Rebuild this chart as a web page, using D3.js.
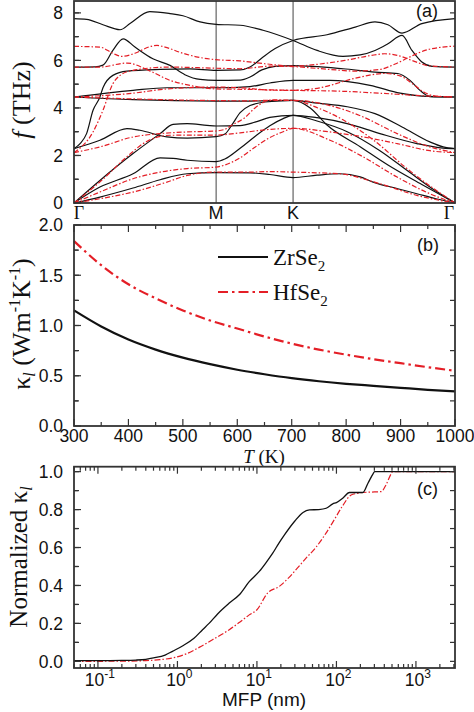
<!DOCTYPE html>
<html><head><meta charset="utf-8">
<script src="https://cdn.jsdelivr.net/npm/d3@7"></script>
<style>body{margin:0;background:#fff;}svg{display:block;}</style>
</head><body>
<svg id="c" width="474" height="712"></svg>
<script>
// ---------------- DATA ----------------
// (a) phonon dispersion, path coordinate k (0 = Γ, M, K, 1 = Γ), frequency in THz
const kLabels = ["Γ", "M", "K", "Γ"];
const kPositions = [0, 0.373, 0.575, 1];
const freqTicks = [0, 2, 4, 6, 8];

const zrBands = [
  [[0,0],[.068,.25],[.155,.63],[.226,.98],[.297,1.23],[.373,1.28],[.462,1.27],[.514,1.2],[.575,1.07],[.638,1.17],[.698,1.23],[.751,1.1],[.785,.88],[.85,.6],[.9,.39],[.95,.18],[1,0]],
  [[0,0],[.068,.67],[.155,1.23],[.226,1.9],[.26,1.88],[.297,1.8],[.373,1.74],[.396,1.85],[.436,2.3],[.475,2.8],[.514,3.25],[.549,3.55],[.575,3.69],[.638,3.45],[.717,3.0],[.803,2.2],[.88,1.3],[.95,.5],[1,0]],
  [[0,0],[.068,.95],[.155,2.08],[.226,2.92],[.26,3.31],[.297,3.34],[.349,3.27],[.373,3.24],[.436,3.26],[.475,3.4],[.514,3.6],[.575,3.69],[.638,3.59],[.717,3.34],[.803,2.92],[.9,2.5],[.969,2.31],[1,2.29]],
  [[0,2.29],[.068,2.64],[.139,3.13],[.173,3.06],[.244,2.78],[.297,2.73],[.373,2.79],[.396,2.9],[.415,3.3],[.436,3.8],[.462,4.1],[.501,4.25],[.575,4.32],[.62,4.0],[.664,3.28],[.751,2.37],[.824,1.6],[.913,.78],[1,0]],
  [[0,2.29],[.016,2.5],[.033,2.92],[.05,3.9],[.068,4.46],[.076,4.85],[.102,5.37],[.139,5.55],[.226,5.62],[.304,5.64],[.373,5.58],[.436,5.6],[.462,5.72],[.493,6.1],[.528,6.5],[.575,6.84],[.664,7.08],[.738,7.4],[.79,7.62],[.824,7.5],[.861,7.15],[.913,7.55],[1,7.76]],
  [[0,4.46],[.155,4.74],[.244,4.85],[.373,4.85],[.462,4.9],[.514,5.05],[.575,5.16],[.672,5.16],[.777,4.95],[.856,4.62],[.913,4.5],[1,4.46]],
  [[0,4.46],[.155,4.35],[.373,4.29],[.462,4.29],[.514,4.31],[.575,4.32],[.64,4.2],[.717,4.05],[.79,3.76],[.861,3.2],[.934,2.57],[.969,2.36],[1,2.29]],
  [[0,5.72],[.055,5.73],[.076,5.8],[.102,6.42],[.129,6.91],[.16,6.56],[.207,6.07],[.252,5.79],[.291,5.4],[.331,5.2],[.373,5.16],[.436,5.17],[.462,5.3],[.493,5.6],[.528,5.75],[.575,5.78],[.706,5.65],[.79,5.51],[.85,5.45],[.882,5.16],[.908,4.74],[.934,4.48],[1,4.46]],
  [[0,7.76],[.033,7.73],[.076,7.5],[.121,7.29],[.147,7.55],[.199,8.05],[.252,7.97],[.286,7.88],[.331,7.62],[.373,7.52],[.436,7.48],[.496,7.27],[.575,6.84],[.638,6.42],[.706,6.17],[.751,6.23],[.79,6.42],[.824,6.7],[.861,7.05],[.887,6.42],[.913,5.93],[.94,5.75],[1,5.72]]
];

const hfBands = [
  [[0,0],[.068,.18],[.155,.46],[.244,.88],[.297,1.16],[.373,1.3],[.462,1.3],[.514,1.32],[.575,1.3],[.672,1.25],[.698,1.23],[.803,.81],[.9,.32],[1,0]],
  [[0,0],[.068,.46],[.155,1.02],[.226,1.3],[.297,1.45],[.373,1.51],[.396,1.6],[.436,1.9],[.475,2.35],[.514,2.75],[.549,3.0],[.575,3.14],[.672,2.64],[.759,1.94],[.848,1.09],[.934,.39],[1,0]],
  [[0,0],[.076,1.0],[.139,1.95],[.192,2.6],[.252,2.85],[.373,2.86],[.436,2.95],[.501,3.08],[.575,3.14],[.672,2.99],[.759,2.78],[.848,2.5],[.934,2.2],[1,2.12]],
  [[0,2.12],[.068,2.36],[.155,2.78],[.226,2.92],[.297,2.99],[.373,3.03],[.396,3.1],[.415,3.28],[.449,3.6],[.475,4.0],[.52,4.34],[.575,4.32],[.64,4.0],[.706,3.5],[.79,2.6],[.87,1.5],[.94,.65],[1,0]],
  [[0,2.12],[.05,2.99],[.076,3.9],[.102,5.02],[.121,5.37],[.155,5.58],[.252,5.72],[.373,5.67],[.436,5.65],[.475,5.7],[.514,5.76],[.575,5.74],[.672,5.62],[.738,5.55],[.803,5.62],[.843,5.85],[.882,6.15],[.921,6.42],[.961,6.55],[1,6.6]],
  [[0,4.46],[.155,4.62],[.244,4.8],[.373,4.88],[.462,4.82],[.514,4.75],[.575,4.74],[.646,4.85],[.738,5.25],[.816,5.45],[.856,5.35],[.89,5.0],[.92,4.65],[.95,4.5],[1,4.46]],
  [[0,4.46],[.155,4.38],[.373,4.31],[.462,4.3],[.514,4.32],[.575,4.32],[.672,4.1],[.759,3.62],[.848,2.92],[.934,2.36],[1,2.12]],
  [[0,5.72],[.068,5.72],[.139,5.89],[.2,5.55],[.252,5.16],[.304,4.95],[.373,4.8],[.462,4.78],[.575,4.74],[.706,4.7],[.803,4.62],[.908,4.52],[1,4.46]],
  [[0,6.59],[.068,6.56],[.102,6.3],[.126,6.17],[.16,6.3],[.199,6.58],[.218,6.63],[.239,6.56],[.286,6.3],[.325,6.14],[.373,6.03],[.436,5.98],[.501,5.86],[.575,5.76],[.646,5.85],[.711,6.0],[.777,6.2],[.816,6.28],[.856,6.18],[.895,5.95],[.929,5.78],[1,5.72]]
];

// (b) lattice thermal conductivity vs temperature
const temperatures = [300,350,400,450,500,550,600,650,700,750,800,850,900,950,1000];
const kappaZr = [1.15,0.99,0.86,0.76,0.68,0.615,0.56,0.515,0.476,0.445,0.42,0.40,0.38,0.36,0.345];
const kappaHf = [1.84,1.60,1.41,1.27,1.15,1.05,0.97,0.89,0.82,0.76,0.71,0.665,0.625,0.585,0.55];
const tempTicks = [300,400,500,600,700,800,900,1000];
const kappaTicks = [0, 0.5, 1.0, 1.5, 2.0];

// (c) normalized cumulative kappa vs MFP (nm)
const mfpZr = [0.05,0.1,0.2,0.3,0.4,0.5,0.7,0.865,1.2,1.6,2.07,2.5,3.2,4.49,6.0,8,10.7,13,15.8,19,22.2,30,38,45.8,60,74.3,90,100,120,146,180,215,250,290,302,3100];
const accZr = [0.004,0.004,0.005,0.007,0.011,0.018,0.033,0.053,0.085,0.12,0.167,0.2,0.25,0.307,0.351,0.42,0.474,0.52,0.57,0.625,0.667,0.74,0.785,0.798,0.8,0.807,0.83,0.837,0.86,0.89,0.89,0.89,0.94,0.99,1.0,1.0];
const mfpHf = [0.05,0.2,0.4,0.6,0.865,1.3,2,2.76,4.49,6.0,8,10,13.6,19.1,25,32,41.5,55,74,95,118,153,180,215,300,367,420,490,510,3100];
const accHf = [0.0,0.001,0.004,0.009,0.018,0.04,0.08,0.114,0.167,0.205,0.245,0.272,0.36,0.395,0.44,0.49,0.544,0.6,0.676,0.75,0.816,0.877,0.885,0.89,0.893,0.895,0.93,0.99,1.0,1.0];
const mfpDecades = [0.1, 1, 10, 100, 1000];
const mfpExponents = ["-1", "0", "1", "2", "3"];
const accTicks = [0, 0.2, 0.4, 0.6, 0.8, 1.0];

// ---------------- DRAWING ----------------
const svg = d3.select("#c");
const L = 74, R = 455;
const serif = "'Liberation Serif', 'Times New Roman', Times, serif";
const sans = "'Liberation Sans', Arial, sans-serif";
const RED = "#e41e26", BLK = "#111", AX = "#333";
const TF = 17.5;

function hLine(g, x1, x2, y, w) {
  g.append("line").attr("x1", x1).attr("x2", x2).attr("y1", y).attr("y2", y)
    .attr("stroke", AX).attr("stroke-width", w || 1.2);
}
function vLine(g, x, y1, y2, w) {
  g.append("line").attr("x1", x).attr("x2", x).attr("y1", y1).attr("y2", y2)
    .attr("stroke", AX).attr("stroke-width", w || 1.2);
}
function frame(g, top, bottom) {
  g.append("rect").attr("x", L).attr("y", top).attr("width", R - L).attr("height", bottom - top)
    .attr("fill", "none").attr("stroke", AX).attr("stroke-width", 1.8);
}
function yTicks(g, scale, vals, len, both, rlen) {
  vals.forEach(v => {
    const y = scale(v);
    hLine(g, L, L + len, y);
    if (both) hLine(g, R - (rlen || len), R, y);
  });
}
function xTicks(g, scale, vals, len, top, bottom) {
  vals.forEach(v => {
    const x = scale(v);
    vLine(g, x, bottom - len, bottom);
    vLine(g, x, top, top + len);
  });
}
function yLabels(g, scale, vals, fmt) {
  vals.forEach(v => {
    g.append("text").attr("x", L - 11).attr("y", scale(v)).attr("dy", "0.36em")
      .attr("text-anchor", "end").style("font-family", sans).attr("font-size", TF)
      .attr("fill", "#111").text(fmt(v));
  });
}

// ---------- Panel (a) ----------
const ga = svg.append("g");
const aTop = 1, aBot = 203;
const xa = d3.scaleLinear().domain([0, 1]).range([L, R]);
const ya = d3.scaleLinear().domain([0, 8.5]).range([aBot, aTop]);
kPositions.slice(1, 3).forEach(k => {
  ga.append("line").attr("x1", xa(k)).attr("x2", xa(k)).attr("y1", aTop).attr("y2", aBot)
    .attr("stroke", "#444").attr("stroke-width", 1);
});
const lineA = d3.line().x(d => xa(d[0])).y(d => ya(d[1])).curve(d3.curveMonotoneX);
zrBands.forEach(b => ga.append("path").attr("d", lineA(b)).attr("fill", "none")
  .attr("stroke", BLK).attr("stroke-width", 1.2));
hfBands.forEach(b => ga.append("path").attr("d", lineA(b)).attr("fill", "none")
  .attr("stroke", RED).attr("stroke-width", 1.2).attr("stroke-dasharray", "5,2,1.5,2"));
frame(ga, aTop, aBot);
yTicks(ga, ya, freqTicks, 7, false);
yTicks(ga, ya, [1, 3, 5, 7], 4, false);
yTicks(ga, ya, [1, 2, 3, 4, 5, 6, 7, 8], 5, true, 5);
yLabels(ga, ya, freqTicks, d => d);
kLabels.forEach((t, i) => {
  const k = kPositions[i];
  const off = i === 0 ? 5 : (i === 3 ? -6 : 0);
  ga.append("text").attr("x", xa(k) + off).attr("y", 219).attr("text-anchor", "middle")
    .style("font-family", t === "Γ" ? serif : sans).attr("font-size", 18).attr("fill", "#111").text(t);
});
ga.append("text").attr("x", 438).attr("y", 17).attr("text-anchor", "end")
  .style("font-family", sans).attr("font-size", 18).attr("fill", "#111").text("(a)");
const ta = ga.append("text").attr("transform", "translate(30,100) rotate(-90)")
  .attr("text-anchor", "middle").style("font-family", serif).attr("font-size", 26).attr("fill", "#111");
ta.append("tspan").attr("font-style", "italic").text("f");
ta.append("tspan").text(" (THz)");

// ---------- Panel (b) ----------
const gb = svg.append("g");
const bTop = 225, bBot = 426;
const xb = d3.scaleLinear().domain([300, 1000]).range([L, R]);
const yb = d3.scaleLinear().domain([0, 2]).range([bBot, bTop]);
const lineB = d3.line().x(d => xb(d[0])).y(d => yb(d[1])).curve(d3.curveMonotoneX);
gb.append("path").attr("d", lineB(temperatures.map((t, i) => [t, kappaHf[i]])))
  .attr("fill", "none").attr("stroke", RED).attr("stroke-width", 2.2).attr("stroke-dasharray", "10,4,2.5,4");
gb.append("path").attr("d", lineB(temperatures.map((t, i) => [t, kappaZr[i]])))
  .attr("fill", "none").attr("stroke", BLK).attr("stroke-width", 2.2);
frame(gb, bTop, bBot);
yTicks(gb, yb, kappaTicks, 7, false);
yTicks(gb, yb, [0.25, 0.75, 1.25, 1.75], 4, false);
yTicks(gb, yb, [0.25, 0.5, 0.75, 1, 1.25, 1.5, 1.75], 5, true, 5);
xTicks(gb, xb, tempTicks, 7, bTop, bBot);
xTicks(gb, xb, [350, 450, 550, 650, 750, 850, 950], 4, bTop, bBot);
yLabels(gb, yb, kappaTicks, d3.format(".1f"));
tempTicks.forEach(t => {
  gb.append("text").attr("x", xb(t)).attr("y", 442).attr("text-anchor", "middle")
    .style("font-family", sans).attr("font-size", TF).attr("fill", "#111").text(t);
});
const tt = gb.append("text").attr("x", 264).attr("y", 463).attr("text-anchor", "middle")
  .style("font-family", serif).attr("font-size", 19).attr("fill", "#111");
tt.append("tspan").attr("font-style", "italic").text("T");
tt.append("tspan").text(" (K)");
gb.append("text").attr("x", 439).attr("y", 251).attr("text-anchor", "end")
  .style("font-family", sans).attr("font-size", 18).attr("fill", "#111").text("(b)");
// legend
const legend = [["ZrSe", BLK, null, 257], ["HfSe", RED, "10,4,2.5,4", 292]];
legend.forEach(([name, col, dash, ly]) => {
  const p = gb.append("line").attr("x1", 218).attr("x2", 268).attr("y1", ly).attr("y2", ly)
    .attr("stroke", col).attr("stroke-width", 2.2);
  if (dash) p.attr("stroke-dasharray", dash);
  const t = gb.append("text").attr("x", 273).attr("y", ly + 8).style("font-family", serif)
    .attr("font-size", 23).attr("fill", "#111");
  t.append("tspan").text(name);
  t.append("tspan").attr("dy", 6).attr("font-size", 15).text("2");
});
const tb = gb.append("text").attr("transform", "translate(30,324) rotate(-90)")
  .attr("text-anchor", "middle").style("font-family", serif).attr("font-size", 26).attr("fill", "#111");
tb.append("tspan").text("κ");
tb.append("tspan").attr("dy", 5).attr("font-size", 16).attr("font-style", "italic").text("l");
tb.append("tspan").attr("dy", -5).text(" (Wm");
tb.append("tspan").attr("dy", -10).attr("font-size", 16).text("-1");
tb.append("tspan").attr("dy", 10).text("K");
tb.append("tspan").attr("dy", -10).attr("font-size", 16).text("-1");
tb.append("tspan").attr("dy", 10).text(")");

// ---------- Panel (c) ----------
const gc = svg.append("g");
const cTop = 466.7, cBot = 668;
const xc = d3.scaleLog().domain([0.05, 3100]).range([L, R]);
const yc = d3.scaleLinear().domain([-0.035, 1.026]).range([cBot, cTop]);
const lineC = d3.line().x(d => xc(d[0])).y(d => yc(d[1])).curve(d3.curveMonotoneX);
gc.append("path").attr("d", lineC(mfpHf.map((m, i) => [m, accHf[i]])))
  .attr("fill", "none").attr("stroke", RED).attr("stroke-width", 1.2).attr("stroke-dasharray", "6,2,1.5,2");
gc.append("path").attr("d", lineC(mfpZr.map((m, i) => [m, accZr[i]])))
  .attr("fill", "none").attr("stroke", BLK).attr("stroke-width", 1.3);
frame(gc, cTop, cBot);
yTicks(gc, yc, accTicks, 7, false);
yTicks(gc, yc, [0.1, 0.3, 0.5, 0.7, 0.9], 4, false);
yTicks(gc, yc, [0, 0.1, 0.2, 0.3, 0.4, 0.5, 0.6, 0.7, 0.8, 0.9, 1.0], 5, true, 5);
xTicks(gc, xc, mfpDecades, 7, cTop, cBot);
const minorMfp = [];
[0.01, 0.1, 1, 10, 100, 1000].forEach(d => {
  for (let m = 2; m <= 9; m++) {
    const v = m * d;
    if (v >= 0.05 && v <= 3100) minorMfp.push(v);
  }
});
xTicks(gc, xc, minorMfp, 4, cTop, cBot);
yLabels(gc, yc, accTicks, d3.format(".1f"));
mfpDecades.forEach((v, i) => {
  const t = gc.append("text").attr("x", xc(v) + 2).attr("y", 686).attr("text-anchor", "middle")
    .style("font-family", sans).attr("font-size", TF).attr("fill", "#111");
  t.append("tspan").text("10");
  t.append("tspan").attr("dy", -8).attr("font-size", 12).text(mfpExponents[i]);
});
gc.append("text").attr("x", 264).attr("y", 706).attr("text-anchor", "middle")
  .style("font-family", sans).attr("font-size", 19).attr("fill", "#111").text("MFP (nm)");
gc.append("text").attr("x", 438).attr("y", 495).attr("text-anchor", "end")
  .style("font-family", sans).attr("font-size", 18).attr("fill", "#111").text("(c)");
const tc = gc.append("text").attr("transform", "translate(27,557) rotate(-90)")
  .attr("text-anchor", "middle").style("font-family", serif).attr("font-size", 25).attr("fill", "#111");
tc.append("tspan").text("Normalized κ");
tc.append("tspan").attr("dy", 5).attr("font-size", 16).attr("font-style", "italic").text("l");
</script>
</body></html>
